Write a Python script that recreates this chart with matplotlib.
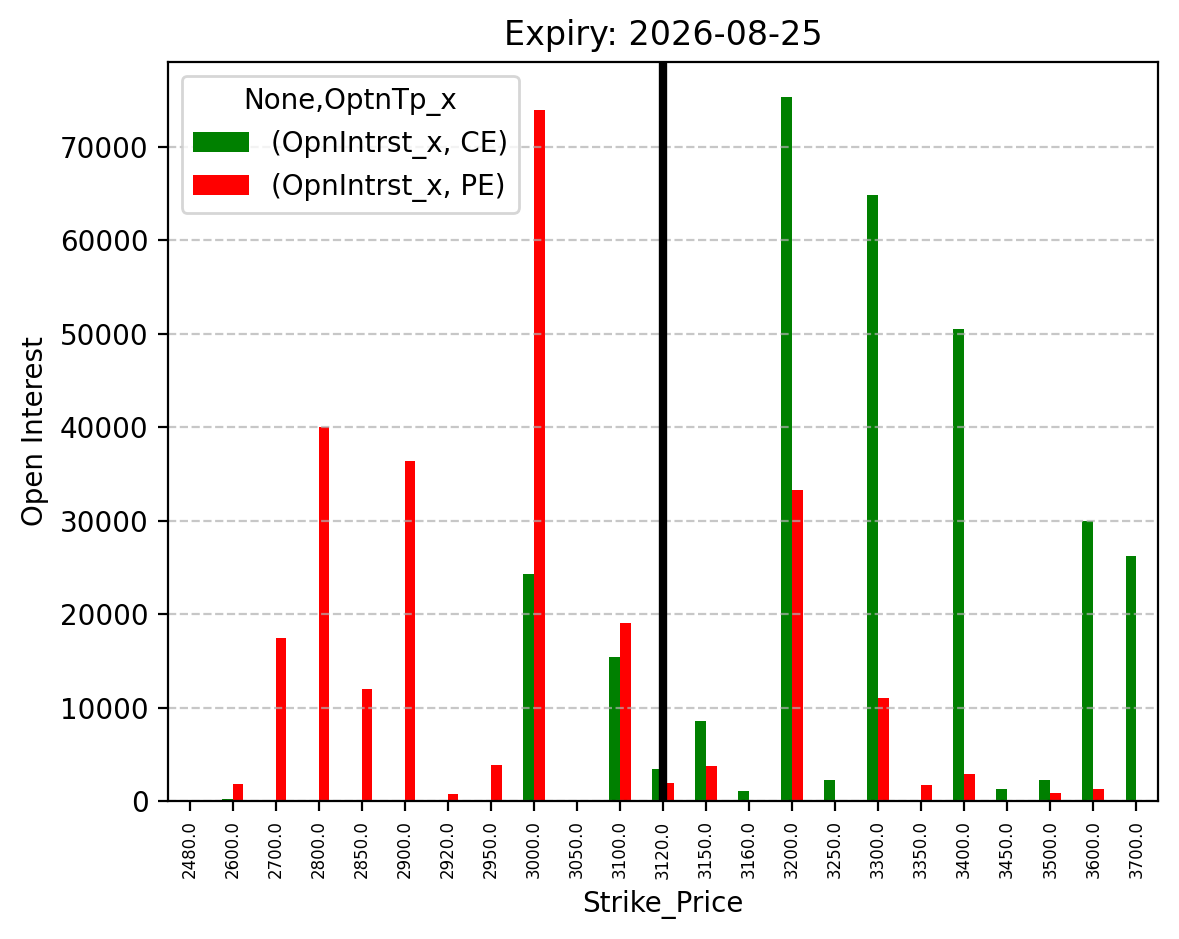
import numpy as np
import pandas as pd
import matplotlib
matplotlib.use("Agg")
import matplotlib.pyplot as plt

strikes = [2480.0, 2600.0, 2700.0, 2800.0, 2850.0, 2900.0, 2920.0, 2950.0,
           3000.0, 3050.0, 3100.0, 3120.0, 3150.0, 3160.0, 3200.0, 3250.0,
           3300.0, 3350.0, 3400.0, 3450.0, 3500.0, 3600.0, 3700.0]
nan = np.nan
ce_oi = [nan, 250, nan, nan, nan, nan, nan, nan,
         24300, nan, 15400, 3400, 8600, 1100, 75300, 2250,
         64800, nan, 50500, 1300, 2250, 30000, 26200]
pe_oi = [150, 1850, 17400, 40000, 12000, 36400, 700, 3900,
         73900, nan, 19000, 1900, 3700, nan, 33300, nan,
         11000, 1750, 2900, nan, 900, 1300, nan]
spot_strike = 3120.0
expiry = "2026-08-25"

cols = pd.MultiIndex.from_tuples([("OpnIntrst_x", "CE"), ("OpnIntrst_x", "PE")],
                                 names=[None, "OptnTp_x"])
df = pd.DataFrame(np.column_stack([ce_oi, pe_oi]),
                  index=pd.Index(strikes, name="Strike_Price"), columns=cols)

fig, ax = plt.subplots(figsize=(5.895, 4.695), dpi=200)
fig.subplots_adjust(left=0.1425, right=0.982, top=0.934, bottom=0.147)

df.plot(kind="bar", ax=ax, color=["green", "red"])
ax.axvline(strikes.index(spot_strike), color="black", linewidth=3)
ax.set_title("Expiry: " + expiry)
ax.set_ylabel("Open Interest")
ax.tick_params(axis="x", labelsize=6, labelrotation=90)
ax.grid(axis="y", linestyle="--", alpha=0.7)
ax.legend(title="None,OptnTp_x", loc="upper left")

plt.savefig("out.png", dpi=200)
